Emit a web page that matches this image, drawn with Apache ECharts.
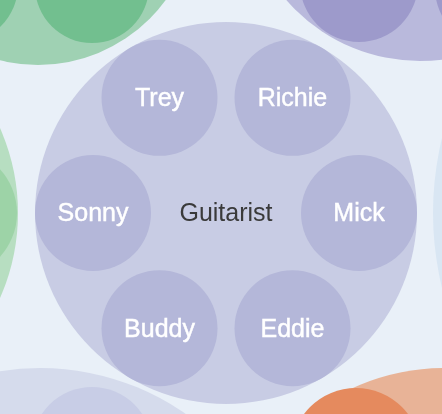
<!DOCTYPE html>
<html>
<head>
<meta charset="utf-8">
<style>html,body{margin:0;padding:0;background:#e9f0f8;}#main{width:442px;height:414px;}</style>
<script src="https://cdn.jsdelivr.net/npm/echarts@6/dist/echarts.min.js"></script>
</head>
<body>
<div id="main"></div>
<script>
// Focused group and its members
const groupName = 'Guitarist';
const groupCenter = [226, 213];
const groupRadius = 191;
const members = ['Mick', 'Eddie', 'Buddy', 'Sonny', 'Trey', 'Richie'];
const memberRadius = 58;

// Neighbouring circles (partly visible), layout units
const otherX = [-192, -48, 38, 92, -40, 420, 359, 493, 40, 92, -40, 445, 356, 750];
const otherY = [213, 213, -93, -14, -15, -116, -17, -12, 622, 447, 462, 591, 453, 213];
const otherR = [210, 65, 158, 57, 58, 177, 59, 58, 254, 60, 58, 223, 65, 317];
const otherC = [0, 1, 2, 3, 3, 4, 5, 5, 6, 7, 7, 8, 9, 10];

const palette = ['#b7dec1', '#9dd3a7', '#9fd1b3', '#72bf8f', '#b9b9dc', '#9d9acb',
                 '#d5dbec', '#c8cde6', '#e8b397', '#e58a5e', '#d9e6f3',
                 '#c8cce4', '#b4b7d9'];

// Build circle records: [x, y, r, colorIndex, label, kind]
const circles = [];
for (let i = 0; i < otherX.length; i++) {
  circles.push([otherX[i], otherY[i], otherR[i], otherC[i], '', 0]);
}
circles.push([groupCenter[0], groupCenter[1], groupRadius, 11, groupName, 1]);
// ring layout of the members inside the group circle
const ring = groupRadius - memberRadius;
members.forEach(function (name, i) {
  const a = i * 2 * Math.PI / members.length;
  circles.push([groupCenter[0] + ring * Math.cos(a), groupCenter[1] + ring * Math.sin(a),
                memberRadius, 12, name, 2]);
});

const chart = echarts.init(document.getElementById('main'));
chart.setOption({
  backgroundColor: '#e9f0f8',
  animation: false,
  grid: { left: 0, right: 0, top: 0, bottom: 0 },
  xAxis: { type: 'value', min: 0, max: 442, show: false },
  yAxis: { type: 'value', min: 0, max: 414, inverse: true, show: false },
  series: [{
    type: 'custom',
    coordinateSystem: 'cartesian2d',
    clip: false,
    data: circles,
    encode: { x: 0, y: 1 },
    renderItem: function (params, api) {
      const d = circles[params.dataIndex];
      const c = api.coord([d[0], d[1]]);
      const r = api.size([d[2], d[2]])[0];
      const children = [{
        type: 'circle',
        shape: { cx: c[0], cy: c[1], r: r },
        style: { fill: palette[d[3]] }
      }];
      if (d[4]) {
        const isGroup = d[5] === 1;
        children.push({
          type: 'text',
          x: c[0], y: c[1] + 1.5,
          style: {
            text: d[4],
            fill: isGroup ? '#3a3a3a' : '#ffffff',
            stroke: isGroup ? null : '#ffffff',
            lineWidth: isGroup ? 0 : 0.45,
            fontFamily: 'Liberation Sans, Arial, sans-serif',
            fontSize: 25,
            fontWeight: 'normal',
            align: 'center',
            verticalAlign: 'middle'
          }
        });
      }
      return { type: 'group', children: children };
    }
  }]
});
</script>
</body>
</html>
